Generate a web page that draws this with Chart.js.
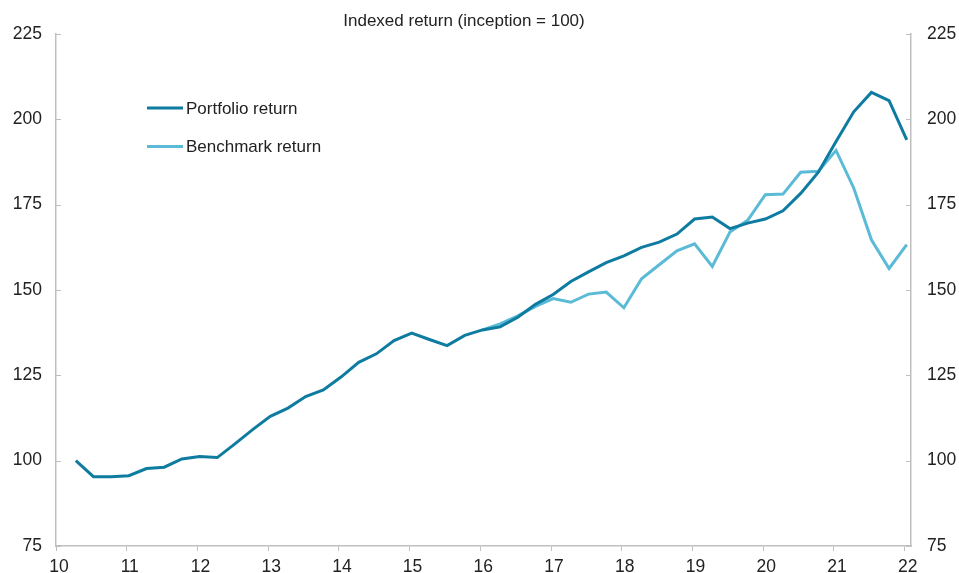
<!DOCTYPE html>
<html>
<head>
<meta charset="utf-8">
<script src="https://cdn.jsdelivr.net/npm/chart.js@4/dist/chart.umd.min.js"></script>
<style>
  html, body { margin: 0; padding: 0; background: #fff; }
  #wrap { width: 959px; height: 573px; position: relative; }
</style>
</head>
<body>
<div id="wrap"><canvas id="chart"></canvas></div>
<script>
// quarter positions on the year axis (10 = 2010)
const quarterX = [
  10.28, 10.53, 10.78, 11.03, 11.28, 11.53, 11.78, 12.03, 12.28, 12.53, 12.78, 13.03,
  13.28, 13.53, 13.78, 14.03, 14.28, 14.53, 14.78, 15.03, 15.28, 15.53, 15.78, 16.03,
  16.28, 16.53, 16.78, 17.03, 17.28, 17.53, 17.78, 18.03, 18.28, 18.53, 18.78, 19.03,
  19.28, 19.53, 19.78, 20.03, 20.28, 20.53, 20.78, 21.03, 21.28, 21.53, 21.78, 22.03
];

const portfolioReturn = [
  100.0, 95.3, 95.3, 95.6, 97.7, 98.1, 100.5, 101.2, 100.9, 104.9, 109.1, 113.0,
  115.4, 118.8, 120.7, 124.5, 128.8, 131.3, 135.2, 137.4, 135.5, 133.7, 136.7, 138.3,
  139.2, 142.0, 145.8, 148.7, 152.5, 155.3, 158.0, 160.0, 162.5, 164.0, 166.4, 170.8,
  171.4, 168.0, 169.6, 170.8, 173.2, 178.3, 184.5, 193.5, 202.2, 207.9, 205.5, 194.0
];

const benchmarkReturn = [
  null, null, null, null, null, null, null, null, null, null, null, null,
  null, null, null, null, null, null, null, null, null, null, null, 138.3,
  140.1, 142.4, 145.2, 147.5, 146.4, 148.8, 149.4, 144.8, 153.3, 157.4, 161.5, 163.5,
  156.9, 167.0, 170.4, 177.9, 178.1, 184.5, 184.8, 190.9, 179.9, 164.7, 156.3, 163.3
];

const seriesNames = ['Portfolio return', 'Benchmark return'];
const chartTitle = 'Indexed return (inception = 100)';
const yMin = 75, yMax = 225, yStep = 25;
const xMin = 10, xMax = 22.09;

const darkTeal = '#0E7BA0';
const lightTeal = '#5BBAD6';
const axisGrey = '#BFBFBF';
const textColor = '#222222';
const fontFamily = "Arial, 'Liberation Sans', sans-serif";

function toPoints(xs, ys) {
  return xs.map((x, i) => ({ x: x, y: ys[i] }));
}

// y axes in the reference have their tick marks pointing into the plot
const innerTicks = {
  id: 'innerTicks',
  afterDraw(chart) {
    const ctx = chart.ctx;
    ['y', 'y2'].forEach(id => {
      const s = chart.scales[id];
      if (!s) return;
      const x0 = id === 'y' ? s.right : s.left;
      const dir = id === 'y' ? 1 : -1;
      ctx.save();
      ctx.strokeStyle = axisGrey;
      ctx.lineWidth = 1;
      s.ticks.forEach(t => {
        const py = Math.round(s.getPixelForValue(t.value)) + 0.5;
        ctx.beginPath();
        ctx.moveTo(x0, py);
        ctx.lineTo(x0 + dir * 5, py);
        ctx.stroke();
      });
      ctx.restore();
    });
  }
};

// title and legend sit inside the frame
const overlayText = {
  id: 'overlayText',
  afterDraw(chart) {
    const ctx = chart.ctx;
    const area = chart.chartArea;
    ctx.save();
    ctx.fillStyle = textColor;
    ctx.font = '17px ' + fontFamily;
    ctx.textAlign = 'center';
    ctx.textBaseline = 'middle';
    ctx.fillText(chartTitle, 464, 21);

    ctx.font = '17px ' + fontFamily;
    ctx.textAlign = 'left';
    chart.data.datasets.forEach((ds, i) => {
      const ly = area.top + 74 + i * 38.5;
      const lx = area.left + 91;
      ctx.strokeStyle = ds.borderColor;
      ctx.lineWidth = 3;
      ctx.beginPath();
      ctx.moveTo(lx, ly);
      ctx.lineTo(lx + 36, ly);
      ctx.stroke();
      ctx.fillText(ds.label, lx + 39, ly + 1);
    });
    ctx.restore();
  }
};

const ctx = document.getElementById('chart').getContext('2d');

new Chart(ctx, {
  type: 'line',
  data: {
    datasets: [
      {
        label: seriesNames[0],
        data: toPoints(quarterX, portfolioReturn),
        borderColor: darkTeal,
        backgroundColor: darkTeal,
        borderWidth: 3,
        pointRadius: 0,
        tension: 0,
        yAxisID: 'y'
      },
      {
        label: seriesNames[1],
        data: toPoints(quarterX, benchmarkReturn),
        borderColor: lightTeal,
        backgroundColor: lightTeal,
        borderWidth: 3,
        pointRadius: 0,
        tension: 0,
        spanGaps: false,
        yAxisID: 'y'
      }
    ]
  },
  options: {
    responsive: true,
    maintainAspectRatio: false,
    animation: false,
    layout: { padding: { top: 34, left: 0, right: 0, bottom: 0 } },
    plugins: {
      legend: { display: false },
      title: { display: false },
      tooltip: { enabled: false }
    },
    scales: {
      x: {
        type: 'linear',
        min: xMin,
        max: xMax,
        border: { display: true, color: axisGrey, width: 1.5 },
        grid: { display: true, drawOnChartArea: false, drawTicks: true, tickLength: 5, color: axisGrey },
        ticks: {
          stepSize: 1,
          includeBounds: false,
          color: textColor,
          font: { family: fontFamily, size: 17.5 },
          padding: 6,
          labelOffset: 3,
          maxRotation: 0,
          autoSkip: false,
          callback: v => (Number.isInteger(v) ? String(v) : '')
        },
        afterFit(scale) { scale.height = 27; }
      },
      y: {
        position: 'left',
        min: yMin,
        max: yMax,
        border: { display: true, color: axisGrey, width: 1.5 },
        grid: { display: false, drawTicks: false },
        ticks: {
          stepSize: yStep,
          color: textColor,
          font: { family: fontFamily, size: 17.5 },
          padding: 14
        },
        afterFit(scale) { scale.width = 56; }
      },
      y2: {
        position: 'right',
        min: yMin,
        max: yMax,
        border: { display: true, color: axisGrey, width: 1.5 },
        grid: { display: false, drawTicks: false },
        ticks: {
          stepSize: yStep,
          color: textColor,
          font: { family: fontFamily, size: 17.5 },
          padding: 16
        },
        afterFit(scale) { scale.width = 48; }
      }
    }
  },
  plugins: [innerTicks, overlayText]
});
</script>
</body>
</html>
